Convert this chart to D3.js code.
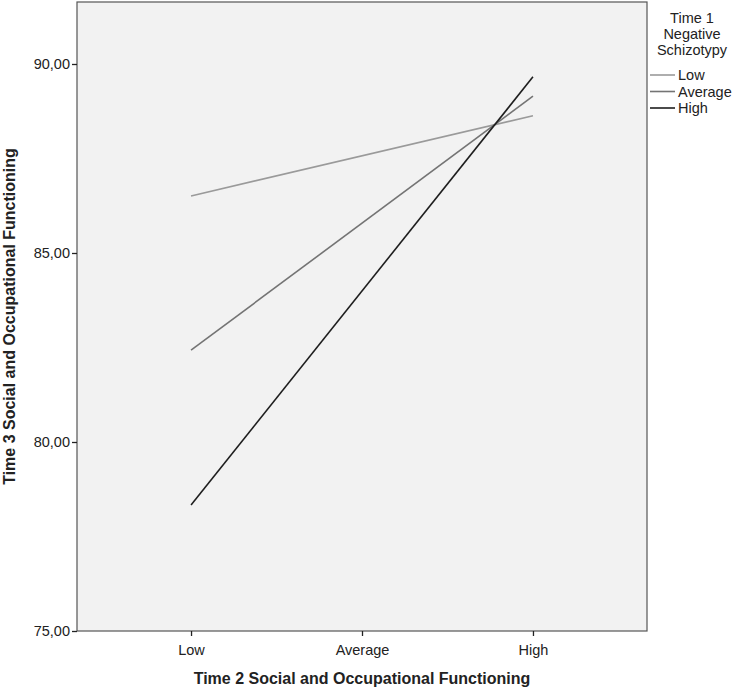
<!DOCTYPE html>
<html>
<head>
<meta charset="utf-8">
<script src="https://cdn.jsdelivr.net/npm/d3@7"></script>
<style>
  body { margin: 0; background: #fff; }
  text { font-family: "Liberation Sans", Arial, sans-serif; fill: #222; }
</style>
</head>
<body>
<div class="chart"></div>
<script>
  // categories on the x axis
  const categories = ['Low', 'Average', 'High'];
  // moderator levels (legend)
  const seriesNames = ['Low', 'Average', 'High'];
  const seriesColors = ['#9a9a9a', '#747474', '#1e1e1e'];
  // predicted values at Low and High of Time 2 functioning
  const lowValues = [86.51, 88.63];
  const averageValues = [82.43, 89.15];
  const highValues = [78.33, 89.66];
  const yTicks = [75, 80, 85, 90];

  const series = [
    { name: seriesNames[0], color: seriesColors[0], values: lowValues },
    { name: seriesNames[1], color: seriesColors[1], values: averageValues },
    { name: seriesNames[2], color: seriesColors[2], values: highValues }
  ];

  const width = 740;
  const height = 687;
  const plot = { left: 77, top: 2, right: 647, bottom: 631 };
  const fontSize = 14.5;

  const svg = d3.select('.chart')
    .append('svg')
    .attr('width', width)
    .attr('height', height);

  const x = d3.scalePoint()
    .domain(categories)
    .range([plot.left, plot.right])
    .padding(0.667);

  const y = d3.scaleLinear()
    .domain([75, 91.64])
    .range([plot.bottom, plot.top]);

  // plot background
  svg.append('rect')
    .attr('x', plot.left)
    .attr('y', plot.top)
    .attr('width', plot.right - plot.left)
    .attr('height', plot.bottom - plot.top)
    .attr('fill', '#f2f2f2')
    .attr('stroke', '#555')
    .attr('stroke-width', 1.2);

  // y axis
  const yAxis = d3.axisLeft(y)
    .tickValues(yTicks)
    .tickSize(5)
    .tickFormat((d) => d3.format('.2f')(d).replace('.', ','));

  svg.append('g')
    .attr('transform', `translate(${plot.left},0)`)
    .call(yAxis)
    .call((g) => g.select('.domain').remove())
    .call((g) => g.selectAll('line').attr('stroke', '#222').attr('stroke-width', 1.3))
    .call((g) => g.selectAll('text')
      .attr('font-size', fontSize)
      .attr('font-family', '"Liberation Sans", Arial, sans-serif')
      .attr('fill', '#222')
      .attr('x', -7));

  // x axis
  const xAxis = d3.axisBottom(x).tickSize(5);

  svg.append('g')
    .attr('transform', `translate(0,${plot.bottom})`)
    .call(xAxis)
    .call((g) => g.select('.domain').remove())
    .call((g) => g.selectAll('line').attr('stroke', '#222').attr('stroke-width', 1.3))
    .call((g) => g.selectAll('text')
      .attr('font-size', fontSize)
      .attr('font-family', '"Liberation Sans", Arial, sans-serif')
      .attr('fill', '#222')
      .attr('y', 14));

  // lines from Low to High
  const line = d3.line()
    .x((d) => x(d.cat))
    .y((d) => y(d.val));

  series.forEach((s) => {
    const pts = [
      { cat: categories[0], val: s.values[0] },
      { cat: categories[2], val: s.values[1] }
    ];
    svg.append('path')
      .attr('d', line(pts))
      .attr('fill', 'none')
      .attr('stroke', s.color)
      .attr('stroke-width', 1.6);
  });

  // axis titles
  svg.append('text')
    .attr('x', (plot.left + plot.right) / 2)
    .attr('y', 684)
    .attr('text-anchor', 'middle')
    .attr('font-size', 16)
    .attr('font-weight', 'bold')
    .text('Time 2 Social and Occupational Functioning');

  svg.append('text')
    .attr('transform', `translate(15,${(plot.top + plot.bottom) / 2}) rotate(-90)`)
    .attr('text-anchor', 'middle')
    .attr('font-size', 16)
    .attr('font-weight', 'bold')
    .text('Time 3 Social and Occupational Functioning');

  // legend
  const legend = svg.append('g');
  ['Time 1', 'Negative', 'Schizotypy'].forEach((t, k) => {
    legend.append('text')
      .attr('x', 692)
      .attr('y', 23 + k * 16)
      .attr('text-anchor', 'middle')
      .attr('font-size', fontSize)
      .text(t);
  });

  series.forEach((s, k) => {
    const ly = 75 + k * 16.5;
    legend.append('line')
      .attr('x1', 650)
      .attr('x2', 675)
      .attr('y1', ly)
      .attr('y2', ly)
      .attr('stroke', s.color)
      .attr('stroke-width', 1.6);
    legend.append('text')
      .attr('x', 678)
      .attr('y', ly + 5)
      .attr('font-size', fontSize)
      .text(s.name);
  });
</script>
</body>
</html>
